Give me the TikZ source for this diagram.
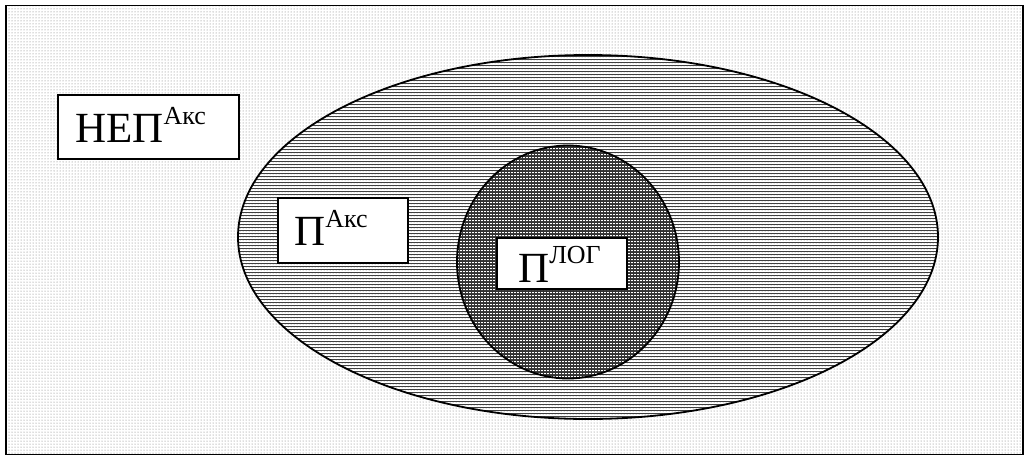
\documentclass[tikz,border=0pt]{standalone}
\usepackage{fontspec}
\setmainfont{Liberation Serif}
\usetikzlibrary{patterns,shapes.geometric}
\begin{document}
\begin{tikzpicture}[x=1pt,y=-1pt,
  lbl/.style={draw=black,line width=1.6pt,fill=white,inner sep=0pt,anchor=north west},
  big/.style={font=\fontsize{43}{43}\selectfont},
]
\useasboundingbox (0,0) rectangle (1026,456);
\fill[white] (0,0) rectangle (1026,456);
\node[draw=black,line width=1.5pt,pattern=dots,pattern color=black!55,minimum width=1017pt,minimum height=449pt,inner sep=0pt,anchor=north west] (frame) at (5,4.5) {};
\node[draw=black,line width=1.8pt,ellipse,pattern=horizontal lines,pattern color=black!75,minimum width=700pt,minimum height=364pt,inner sep=0pt] (ell) at (588,237) {};
\node[draw=black,line width=1.8pt,ellipse,pattern=grid,pattern color=black!80,minimum width=222pt,minimum height=233pt,inner sep=0pt] (circ) at (568,262) {};
\node[lbl,minimum width=181pt,minimum height=64pt] (nepbox) at (57,94) {};
\node[anchor=base west,inner sep=0pt,big] (nep) at (75,142) {НЕП\raisebox{18pt}{\fontsize{26}{26}\selectfont Акс}};
\node[lbl,minimum width=130pt,minimum height=65pt] (pakbox) at (277,197) {};
\node[anchor=base west,inner sep=0pt,big] (pak) at (294,245) {П\raisebox{18pt}{\fontsize{26}{26}\selectfont Акс}};
\node[lbl,minimum width=130pt,minimum height=51pt] (plogbox) at (496,237) {};
\node[anchor=base west,inner sep=0pt,big] (plog) at (518,282) {П\raisebox{19pt}{\fontsize{26}{26}\selectfont ЛОГ}};
\end{tikzpicture}
\end{document}
